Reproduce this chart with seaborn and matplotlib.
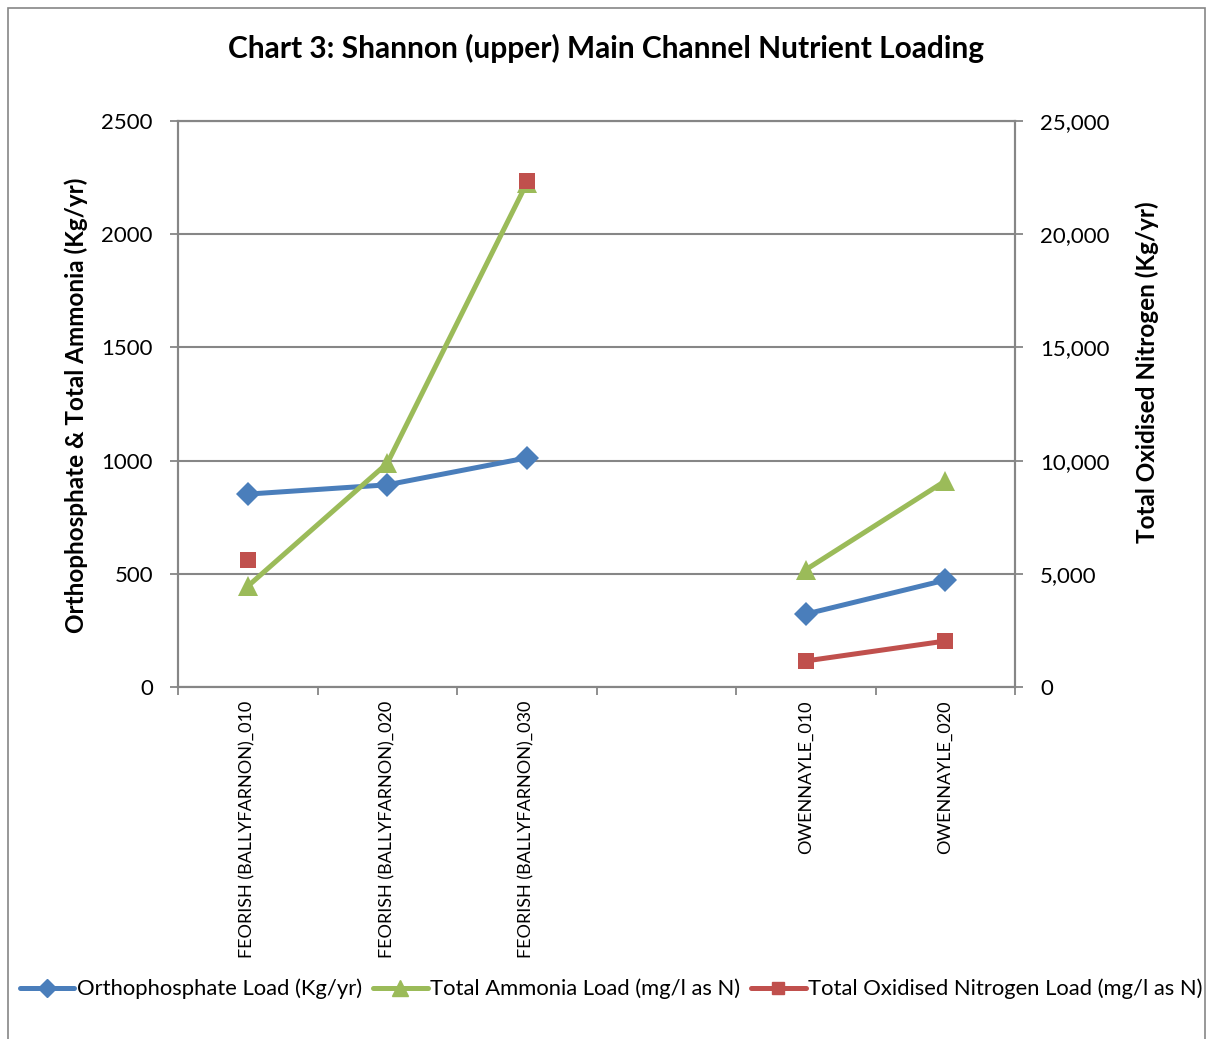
import numpy as np
import pandas as pd
import matplotlib
matplotlib.use('Agg')
import matplotlib.pyplot as plt
import seaborn as sns
from matplotlib.lines import Line2D
from matplotlib.ticker import FuncFormatter

# data
sites = ['FEORISH (BALLYFARNON)_010', 'FEORISH (BALLYFARNON)_020',
         'FEORISH (BALLYFARNON)_030', '', 'OWENNAYLE_010', 'OWENNAYLE_020']
ortho = [852, 893, 1012, np.nan, 322, 472]          # Kg/yr, left axis
ammonia = [445, 988, 2225, np.nan, 518, 910]        # left axis
oxid_n = [5610, np.nan, 22350, np.nan, 1150, 2030]  # right axis

series_names = ['Orthophosphate Load (Kg/yr)',
                'Total Ammonia Load (mg/l as N)',
                'Total Oxidised Nitrogen Load (mg/l as N)']

blue, green, red = '#4A7EBB', '#9BBB59', '#C0504D'
grey = '#868686'

sns.set_theme(style='white')
plt.rcParams['font.family'] = ['Lato', 'DejaVu Sans']
plt.rcParams['text.color'] = 'black'
plt.rcParams['axes.labelcolor'] = 'black'
plt.rcParams['xtick.color'] = 'black'
plt.rcParams['ytick.color'] = 'black'


def to_long(values):
    # break the line wherever a value is missing
    df = pd.DataFrame({'pos': range(len(sites)), 'value': values})
    df['seg'] = df['value'].isna().cumsum()
    return df.dropna()


fig = plt.figure(figsize=(12.08, 10.39), dpi=100)
ax = fig.add_axes([178 / 1208, 1 - 687 / 1039, 837 / 1208, 566 / 1039])

sns.lineplot(data=to_long(ortho), x='pos', y='value', units='seg', estimator=None,
             color=blue, lw=3.6, marker='D', markersize=12, mec=blue, mew=0, ax=ax)
sns.lineplot(data=to_long(ammonia), x='pos', y='value', units='seg', estimator=None,
             color=green, lw=3.6, marker='^', markersize=15, mec=green, mew=0, ax=ax)

ax2 = ax.twinx()
sns.lineplot(data=to_long(oxid_n), x='pos', y='value', units='seg', estimator=None,
             color=red, lw=3.6, marker='s', markersize=11, mec=red, mew=0, ax=ax2)

# x axis: labels at slot centres, ticks at slot boundaries
ax.set_xlim(-0.5, len(sites) - 0.5)
ax.set_xticks(range(len(sites)))
ax.set_xticklabels(sites, rotation=90, fontsize=13)
ax.set_xticks(np.arange(-0.5, len(sites), 1), minor=True)
ax.tick_params(axis='x', which='major', length=0, pad=10)
ax.tick_params(axis='x', which='minor', length=6, width=1.3, color=grey, direction='out', bottom=True)
ax.set_xlabel('')

ax.set_ylim(0, 2500)
ax.set_yticks(range(0, 2501, 500))
ax.tick_params(axis='y', length=6, width=1.3, color=grey, direction='out', left=True,
               labelsize=16, pad=12)
ax.yaxis.grid(True, color=grey, lw=1.5)
ax.set_axisbelow(True)

ax2.set_ylim(0, 25000)
ax2.set_yticks(range(0, 25001, 5000))
ax2.yaxis.set_major_formatter(FuncFormatter(lambda v, p: f'{v:,.0f}'))
ax2.tick_params(axis='y', length=6, width=1.3, color=grey, direction='out', right=True,
                labelsize=16, pad=12)
ax2.grid(False)

for a in (ax, ax2):
    for s in a.spines.values():
        s.set_color(grey)
        s.set_linewidth(1.5)

ax.set_ylabel('Orthophosphate & Total Ammonia (Kg/yr)', fontsize=17.5, fontweight='bold')
ax.yaxis.set_label_coords(-0.1075, 0.498)
ax2.set_ylabel('Total Oxidised Nitrogen (Kg/yr)', fontsize=17.5, fontweight='bold')
ax2.yaxis.set_label_coords(1.1434, 0.5565)

fig.text(606 / 1208, 1 - 48 / 1039, 'Chart 3: Shannon (upper) Main Channel Nutrient Loading',
         ha='center', va='center', fontsize=21.5, fontweight='bold')

handles = [Line2D([], [], color=c, lw=3.6, marker=m, markersize=ms, mec=c)
           for c, m, ms in [(blue, 'D', 9), (green, '^', 11), (red, 's', 9)]]
fig.legend(handles, series_names, loc='center', bbox_to_anchor=(611 / 1208, 1 - 989 / 1039),
           ncol=3, frameon=False, fontsize=15.8, handlelength=2.5,
           columnspacing=0.5, handletextpad=0.1)

fig.add_artist(plt.Rectangle((8 / 1208, -0.05), (1205 - 8) / 1208, 1.05 - 8 / 1039,
                             fill=False, edgecolor=grey, lw=1.2, transform=fig.transFigure))

fig.savefig('out.png', dpi=100)
